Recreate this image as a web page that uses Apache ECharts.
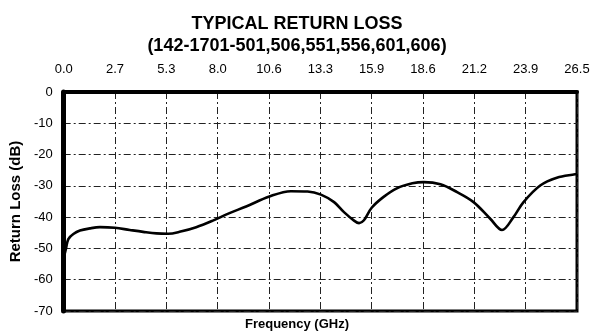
<!DOCTYPE html>
<html>
<head>
<meta charset="utf-8">
<script src="https://cdn.jsdelivr.net/npm/echarts@6/dist/echarts.min.js"></script>
<style>
  html, body { margin: 0; padding: 0; background: #fff; }
  #chart { width: 594px; height: 333px; }
</style>
</head>
<body>
<div id="chart"></div>
<script>
// Frequency sweep (GHz) and measured return loss (dB)
const freqGHz = [0, 0.12, 0.24, 0.5, 0.84, 1.35, 1.87, 2.64, 3.41, 4.10, 4.79, 5.39, 5.98, 6.84, 7.70, 8.56, 9.42, 10.62, 11.73, 12.59, 13.28, 13.96, 14.47, 14.99, 15.25, 15.50, 15.90, 16.50, 17.20, 18.00, 18.59, 19.45, 20.31, 21.16, 22.02, 22.63, 23.22, 23.74, 24.60, 25.46, 26.40, 26.5];
const returnLossDb = [-53, -50, -47.0, -45.4, -44.3, -43.6, -43.2, -43.4, -44.1, -44.7, -45.2, -45.3, -44.7, -43.2, -41.1, -38.7, -36.6, -33.4, -31.7, -31.8, -32.8, -35.2, -38.4, -41.1, -41.9, -41.0, -37.0, -33.6, -30.8, -29.2, -28.8, -29.5, -32.0, -35.2, -40.5, -44.1, -40.0, -35.2, -29.9, -27.4, -26.3, -26.2];

// Frequency tick labels along the top axis
const freqTickLabels = ['0.0', '2.7', '5.3', '8.0', '10.6', '13.3', '15.9', '18.6', '21.2', '23.9', '26.5'];
const freqMax = 26.5;
const freqStep = freqMax / (freqTickLabels.length - 1);

// Return loss axis range
const lossMin = -70;
const lossMax = 0;
const lossStep = 10;

const FONT = 'Liberation Sans, Arial, sans-serif';
const gridLine = { color: '#222', width: 1, type: [7, 3, 2, 3] };

const chart = echarts.init(document.getElementById('chart'), null, { renderer: 'canvas' });

chart.setOption({
  animation: false,
  backgroundColor: '#fff',
  title: [
    {
      text: 'TYPICAL RETURN LOSS',
      left: 'center', top: 10,
      textStyle: { fontFamily: FONT, fontSize: 18, fontWeight: 'bold', color: '#000' }
    },
    {
      text: '(142-1701-501,506,551,556,601,606)',
      left: 'center', top: 32,
      textStyle: { fontFamily: FONT, fontSize: 18, fontWeight: 'bold', color: '#000' }
    }
  ],
  graphic: [
    {
      type: 'text',
      left: 'center', top: 318,
      style: { text: 'Frequency (GHz)', font: 'bold 13px ' + FONT, fill: '#000' }
    }
  ],
  grid: {
    left: 62, right: 17, top: 92, bottom: 22,
    show: true, borderColor: '#000', borderWidth: 3
  },
  xAxis: {
    type: 'value',
    position: 'top',
    min: 0, max: freqMax, interval: freqStep,
    axisLine: { show: true, lineStyle: { color: '#000', width: 4 } },
    axisTick: { show: false },
    axisLabel: {
      margin: 16,
      fontFamily: FONT, fontSize: 13, color: '#000',
      formatter: v => freqTickLabels[Math.round(v / freqStep)]
    },
    splitLine: { show: true, lineStyle: gridLine }
  },
  yAxis: {
    type: 'value',
    min: lossMin, max: lossMax, interval: lossStep,
    name: 'Return Loss (dB)',
    nameLocation: 'middle',
    nameRotate: 90,
    nameGap: 38,
    nameTextStyle: { fontFamily: FONT, fontSize: 15, fontWeight: 'bold', color: '#000' },
    axisLine: { show: true, lineStyle: { color: '#000', width: 5 } },
    axisTick: { show: false },
    axisLabel: { margin: 11, fontFamily: FONT, fontSize: 13, color: '#000' },
    splitLine: { show: true, lineStyle: gridLine }
  },
  series: [
    {
      type: 'line',
      data: freqGHz.map((f, i) => [f, returnLossDb[i]]),
      smooth: 0.35,
      showSymbol: false,
      lineStyle: { color: '#000', width: 2.6 },
      z: 5
    }
  ]
});
</script>
</body>
</html>
